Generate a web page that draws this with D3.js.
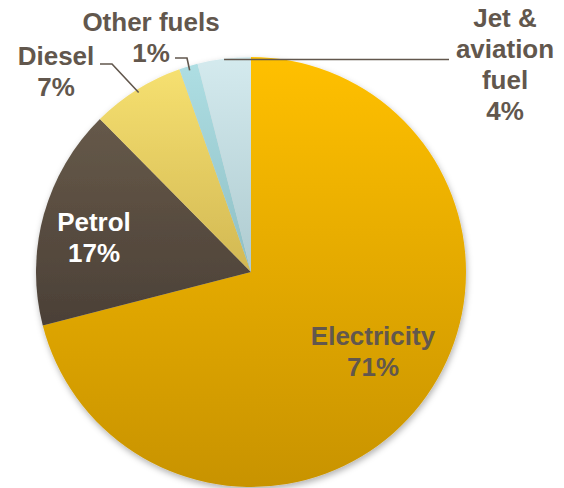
<!DOCTYPE html>
<html>
<head>
<meta charset="utf-8">
<script src="https://cdn.jsdelivr.net/npm/d3@7"></script>
<style>
  body { margin: 0; background: #fff; }
  svg { display: block; font-family: "Liberation Sans", Arial, sans-serif; font-weight: bold; }
</style>
</head>
<body>
<div id="chart"></div>
<script>
var fuels = ["Electricity", "Petrol", "Diesel", "Other fuels", "Jet & aviation fuel"],
    shares = [71, 16.6, 7, 1.4, 4];

var width = 564, height = 488,
    cx = 251, cy = 272, r = 215;

// gradient colours, top -> bottom of each slice
var topColor = ["#ffc000", "#665949", "#f6e070", "#aedee3", "#d4eaee"],
    botColor = ["#c89300", "#4b4037", "#d2b853", "#8ebfc5", "#aecbd0"];

var textColor = "#62574d";

// label layout: lines, anchor x, first baseline, colour; leader: elbow points
var labels = [
  {lines: ["Electricity"], x: 373, y: 345, fill: textColor},
  {lines: ["Petrol"], x: 94, y: 231, fill: "#fff"},
  {lines: ["Diesel"], x: 56, y: 65, fill: textColor, leader: [[100, 64], [112, 64]], rr: 0.985},
  {lines: ["Other fuels"], x: 151, y: 31, fill: textColor, leader: [[175, 58], [187, 58]], rr: 0.98},
  {lines: ["Jet &", "aviation", "fuel"], x: 505, y: 27, fill: textColor, leader: [[449, 59.5]], rr: 1, flat: true}
];

var svg = d3.select("#chart").append("svg")
    .attr("width", width)
    .attr("height", height);

var defs = svg.append("defs");

var shadow = defs.append("filter")
    .attr("id", "shadow")
    .attr("x", "-10%").attr("y", "-10%")
    .attr("width", "120%").attr("height", "120%");
shadow.append("feDropShadow")
    .attr("dx", 1).attr("dy", 3)
    .attr("stdDeviation", 3)
    .attr("flood-color", "#000")
    .attr("flood-opacity", 0.3);

fuels.forEach(function(f, i) {
  var g = defs.append("linearGradient")
      .attr("id", "grad" + i)
      .attr("x1", 0).attr("y1", 0)
      .attr("x2", 0).attr("y2", 1);
  g.append("stop").attr("offset", "0%").attr("stop-color", topColor[i]);
  g.append("stop").attr("offset", "100%").attr("stop-color", botColor[i]);
});

var pie = d3.pie().sort(null).value(function(d) { return d; });
var arcs = pie(shares);

var arc = d3.arc().innerRadius(0).outerRadius(r);

var g = svg.append("g")
    .attr("transform", "translate(" + cx + "," + cy + ")");

g.append("g")
    .attr("filter", "url(#shadow)")
    .selectAll("path")
    .data(arcs)
    .enter()
    .append("path")
    .attr("d", arc)
    .attr("fill", function(d, i) { return "url(#grad" + i + ")"; });

// leader lines
labels.forEach(function(l, i) {
  if (!l.leader) return;
  var a = (arcs[i].startAngle + arcs[i].endAngle) / 2,
      px = cx + Math.sin(a) * r * l.rr,
      py = cy - Math.cos(a) * r * l.rr;
  if (l.flat) py = l.leader[0][1];
  var pts = [[px, py]].concat(l.leader.slice().reverse());
  svg.append("path")
      .attr("d", d3.line()(pts))
      .attr("fill", "none")
      .attr("stroke", textColor)
      .attr("stroke-width", 1.6);
});

// labels: name lines, then the rounded share
labels.forEach(function(l, i) {
  var t = svg.append("text")
      .attr("text-anchor", "middle")
      .attr("font-size", 26)
      .attr("fill", l.fill);
  l.lines.concat([Math.round(shares[i]) + "%"]).forEach(function(s, k) {
    t.append("tspan")
        .attr("x", l.x)
        .attr("y", l.y + k * 31)
        .text(s);
  });
});
</script>
</body>
</html>
